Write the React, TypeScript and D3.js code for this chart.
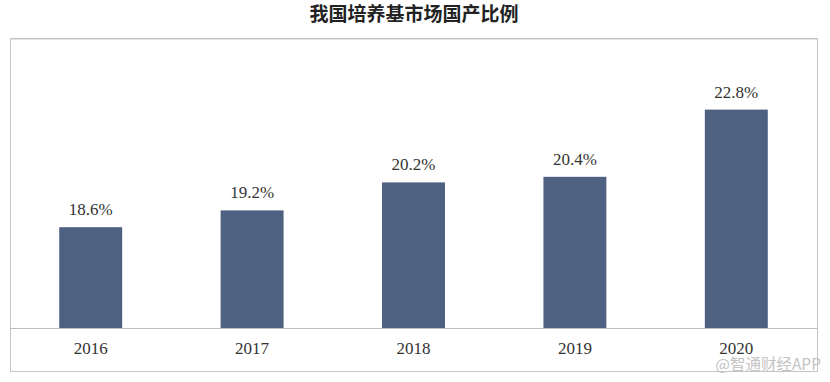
import React from "react";
import * as d3 from "d3";

const years = ["2016", "2017", "2018", "2019", "2020"];
const shares = [18.6, 19.2, 20.2, 20.4, 22.8];
const titleText = "我国培养基市场国产比例";
const watermark = "@智通财经APP";

export default function App() {
  const W = 830, H = 382;
  const box = { left: 10, right: 817, top: 38, bottom: 371 };
  const baseY = 328;
  const x = d3.scaleBand<string>().domain(years).range([box.left, box.right]).paddingInner(0.61).paddingOuter(0.305);
  const y = d3.scaleLinear().domain([15, 25]).range([baseY, baseY - 280]);
  const serif = "'Liberation Serif', 'DejaVu Serif', serif";
  return (
    <svg width={W} height={H} style={{ position: "absolute", left: 0, top: 0, background: "#fff" }}>
      <text x={414} y={21} textAnchor="middle" fontFamily="'Noto Sans CJK SC', sans-serif" fontWeight={700} fontSize={19} fill="#222">{titleText}</text>
      <rect x={box.left + 0.5} y={box.top + 0.5} width={box.right - box.left} height={box.bottom - box.top} fill="#fff" stroke="#c4c4c4" strokeWidth={1} />
      <line x1={box.left + 1} y1={box.top + 1.5} x2={box.right} y2={box.top + 1.5} stroke="#e4e4e4" strokeWidth={1} />
      {years.map((yr, i) => (
        <g key={yr}>
          <rect x={x(yr)} y={y(shares[i])} width={x.bandwidth()} height={baseY - y(shares[i])} fill="#4e6180" />
          <text x={(x(yr) as number) + x.bandwidth() / 2} y={y(shares[i]) - 12} textAnchor="middle" fontFamily={serif} fontSize={17} fill="#333">{shares[i].toFixed(1)}%</text>
          <text x={(x(yr) as number) + x.bandwidth() / 2} y={354} textAnchor="middle" fontFamily={serif} fontSize={17} fill="#333">{yr}</text>
        </g>
      ))}
      <line x1={box.left} y1={baseY + 0.5} x2={box.right} y2={baseY + 0.5} stroke="#bdbdbd" strokeWidth={1} />
      <text x={821} y={370} textAnchor="end" fontFamily="'Noto Sans CJK SC', sans-serif" fontSize={15.5} fill="#c4c4c4">{watermark}</text>
    </svg>
  );
}
